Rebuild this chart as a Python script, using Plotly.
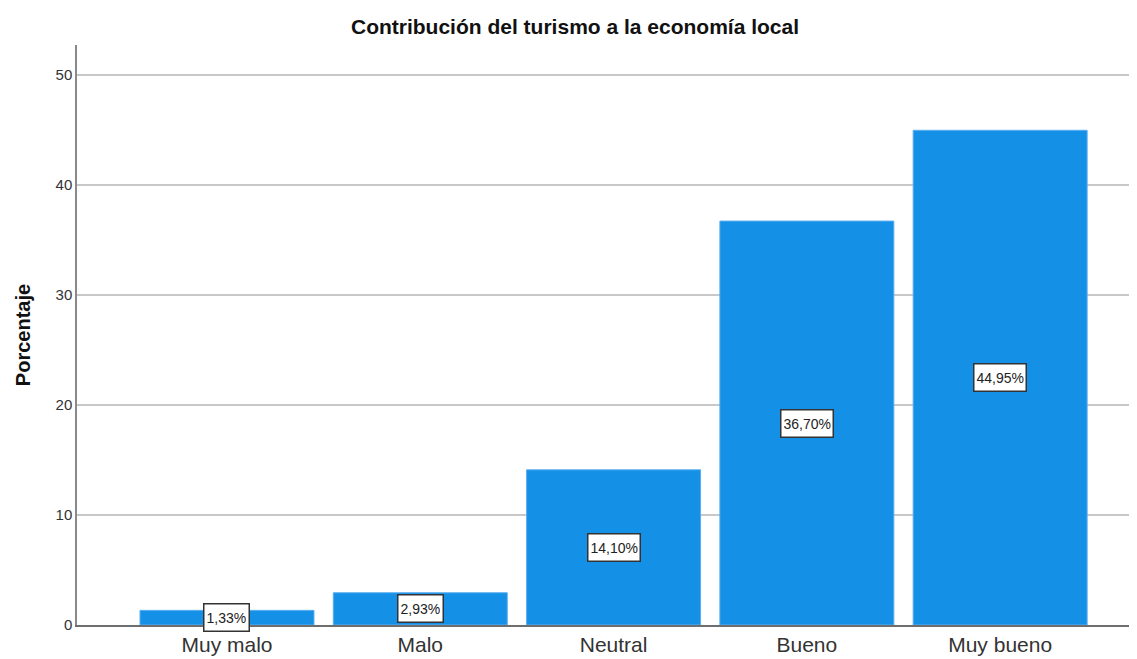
import plotly.graph_objects as go

categories = ["Muy malo", "Malo", "Neutral", "Bueno", "Muy bueno"]
values = [1.33, 2.93, 14.10, 36.70, 44.95]
labels = [f"{v:.2f}".replace(".", ",") + "%" for v in values]
y_ticks = [0, 10, 20, 30, 40, 50]

FONT = "Liberation Sans, Arial"

fig = go.Figure()
fig.add_trace(go.Bar(
    x=categories, y=values,
    marker=dict(color="#1490e6", line=dict(color="#5aaef0", width=1)),
    width=0.9,
    hoverinfo="skip",
))

for c, v, t in zip(categories, values, labels):
    fig.add_annotation(
        x=c, y=v / 2, text=t, showarrow=False,
        font=dict(family=FONT, size=14, color="#222"),
        bgcolor="white", bordercolor="#333", borderwidth=1.5, borderpad=2,
        height=22,
        xanchor="center", yanchor="middle",
    )

fig.update_layout(
    width=1137, height=659,
    margin=dict(l=69, r=8, t=37, b=42),
    paper_bgcolor="white", plot_bgcolor="white",
    showlegend=False,
    title=dict(
        text="<b>Contribución del turismo a la economía local</b>",
        xref="container", x=0.4987, xanchor="center",
        yref="container", y=0.972, yanchor="middle",
        font=dict(family=FONT, size=21, color="#111"),
    ),
    xaxis=dict(
        range=[-0.776, 4.708],
        showline=True, linecolor="#6e6e6e", linewidth=1.5,
        showgrid=False, ticks="",
        tickfont=dict(family=FONT, size=21, color="#333"),
    ),
    yaxis=dict(
        range=[0, 52.7],
        tickvals=y_ticks,
        showline=True, linecolor="#8a8a8a", linewidth=1.5,
        showgrid=True, gridcolor="#c8c8c8", gridwidth=1.5,
        zeroline=False, ticks="",
        tickfont=dict(family=FONT, size=15, color="#333"),
        title=dict(text="<b>Porcentaje</b>", standoff=20,
                   font=dict(family=FONT, size=20, color="#111")),
    ),
)

fig.write_html("out.html")
